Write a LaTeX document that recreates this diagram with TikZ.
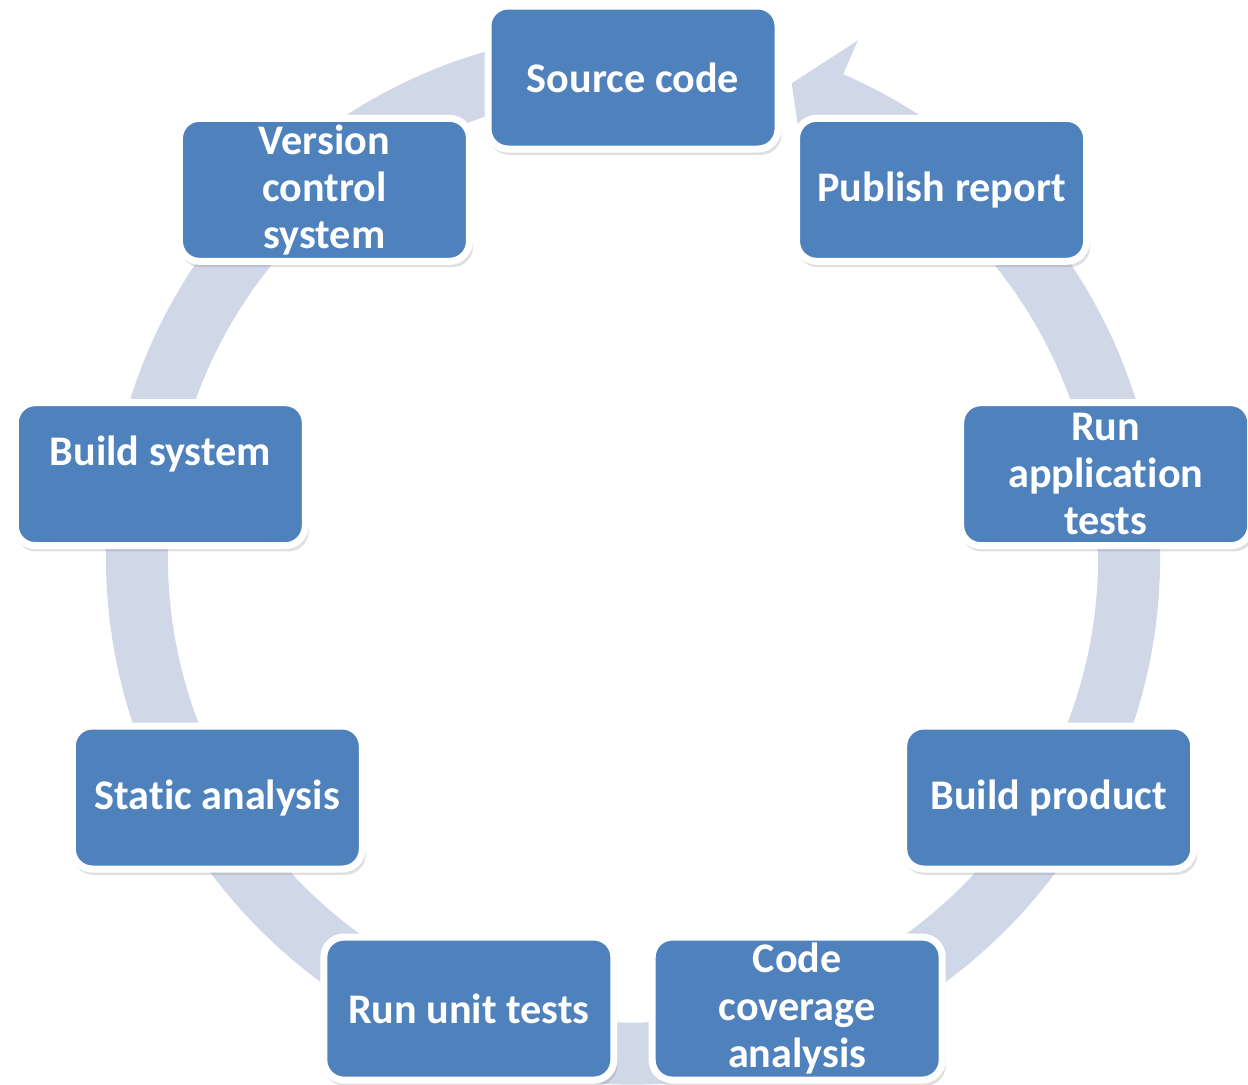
\documentclass[tikz,border=0pt]{standalone}
\usepackage{fontspec}
\setmainfont{Carlito}[Ligatures={NoCommon,NoContextual}]
\usepackage{tikz}
\usetikzlibrary{shadows}
\definecolor{stageblue}{RGB}{79,129,189}
\definecolor{ringgray}{RGB}{208,216,232}
\tikzset{
    stage/.style={rectangle, rounded corners=0.2cm, fill=stageblue, draw=white,
        line width=0.07cm, minimum width=2.9cm, minimum height=1.43cm, inner sep=0pt,
        align=center, text=white, font=\fontsize{12}{13.4}\selectfont\bfseries,
        drop shadow={opacity=0.25, shadow xshift=0.02cm, shadow yshift=-0.05cm, shadow scale=1.01}}
}

\begin{document}
\begin{tikzpicture}
    \useasboundingbox (0,0) rectangle (12.48,10.84);
    \begin{scope}[shift={(6.33,5.265)}]
        \fill[ringgray] (100:5.27) arc (100:426.5:5.27) -- (426.5:4.65) arc (426.5:100:4.65) -- cycle;
        \fill[ringgray] (66.5:5.64) -- (71.5:5.0) -- (66.5:4.28) -- cycle;
        \foreach \ang/\name/\txt in {90/src/{Source code}, 130/vcs/{Version\\control\\system},
                170/bsys/{Build system\\~}, 210/stat/{Static analysis}, 250/unit/{Run unit tests},
                290/cov/{Code\\coverage\\analysis}, 330/prod/{Build product},
                10/app/{Run\\application\\tests}, 50/pub/{Publish report}} {
            \node[stage] (\name) at (\ang:4.8) {\txt};
        }
    \end{scope}
\end{tikzpicture}
\end{document}
